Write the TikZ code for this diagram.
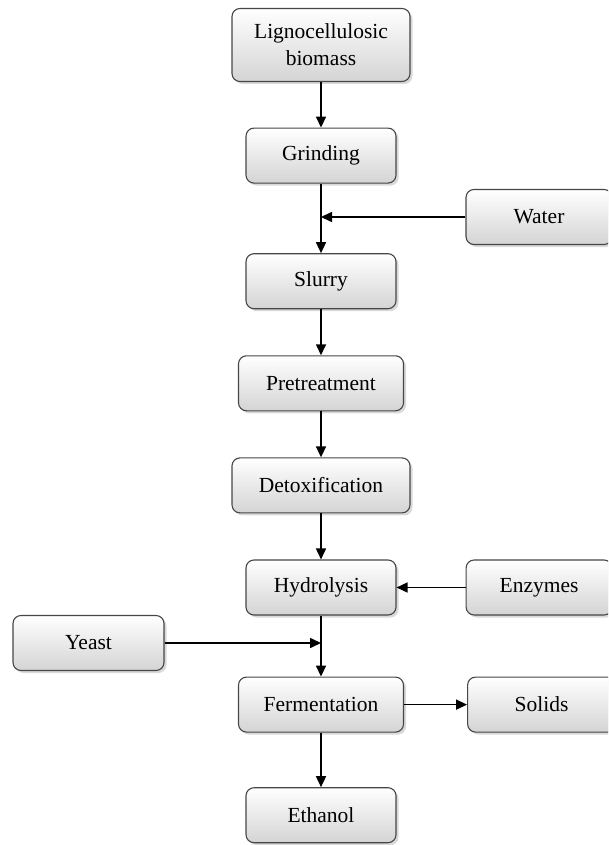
\documentclass[tikz,border=0pt]{standalone}
\usepackage{fontspec}
\setmainfont{Liberation Serif}
\usetikzlibrary{arrows.meta, positioning, shadows}
\definecolor{boxline}{RGB}{70, 70, 70}
\definecolor{boxshade}{RGB}{212, 212, 212}

\begin{document}
\begin{tikzpicture}[x=1pt, y=1pt,
        node distance=46pt,
        proc/.style={draw=boxline, line width=1.1pt, rounded corners=8pt, top color=white, bottom color=boxshade,
          drop shadow={shadow xshift=2.5pt, shadow yshift=-2.5pt, opacity=0.3},
          minimum width=150pt, minimum height=55pt, align=center, font=\fontsize{21.5}{27}\selectfont},
        wide/.style={proc, minimum width=165pt},
        wider/.style={proc, minimum width=178pt},
        arr/.style={-{Triangle[length=11pt, width=10pt]}, line width=1.6pt, black}
      ]
        \useasboundingbox (0,0) rectangle (608,-845);
        \clip (0,0) rectangle (608,-845);
        % main line
        \node[wider, minimum height=73pt] (ligno) at (321,-45) {Lignocellulosic\\biomass};
        \node[proc, below=45.5pt of ligno] (grind) {Grinding};
        \node[proc, below=69.5pt of grind] (slurry) {Slurry};
        \node[wide, below=of slurry] (pretreat) {Pretreatment};
        \node[wider, below=of pretreat] (detox) {Detoxification};
        \node[proc, below=of detox] (hydro) {Hydrolysis};
        \node[wide, below=61pt of hydro] (ferm) {Fermentation};
        \node[proc, below=54.5pt of ferm] (ethanol) {Ethanol};
        % side inputs / outputs
        \node[proc, minimum width=146pt] (water) at (539,-217) {Water};
        \node[proc, minimum width=146pt, right=69pt of hydro] (enzymes) {Enzymes};
        \node[proc, minimum width=151pt] (yeast) at (88.5,-643) {Yeast};
        \node[proc, minimum width=148pt, right=63pt of ferm] (solids) {Solids};
        \coordinate (wj) at (grind.south |- water.west);
        \coordinate (yj) at (hydro.south |- yeast.east);
        \draw[arr] (ligno) -- (grind);
        \draw[arr] (grind) -- (slurry);
        \draw[arr] (water) -- (wj);
        \draw[arr] (slurry) -- (pretreat);
        \draw[arr] (pretreat) -- (detox);
        \draw[arr] (detox) -- (hydro);
        \draw[arr] (enzymes) -- (hydro);
        \draw[arr] (hydro) -- (ferm);
        \draw[arr] (yeast) -- (yj);
        \draw[arr] (ferm) -- (solids);
        \draw[arr] (ferm) -- (ethanol);
      \end{tikzpicture}
\end{document}
